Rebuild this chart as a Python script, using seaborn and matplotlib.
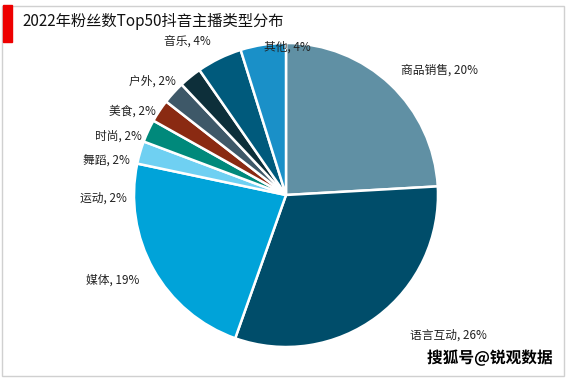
import matplotlib
matplotlib.use("Agg")
import matplotlib.pyplot as plt
import seaborn as sns
from matplotlib.patches import Rectangle
import matplotlib.patheffects as pe

categories = ["商品销售", "语言互动", "媒体", "运动", "舞蹈", "时尚", "美食", "户外", "音乐", "其他"]
values = [20, 26, 19, 2, 2, 2, 2, 2, 4, 4]
colors = ["#6090a4", "#004d6a", "#00a3d9", "#6fd0f2", "#00897b", "#8a2a12",
          "#3e5868", "#0d2f3a", "#005a7c", "#1a90c8"]
title = "2022年粉丝数Top50抖音主播类型分布"

sns.set_theme(style="white")
plt.rcParams['font.family'] = ['Noto Sans CJK SC', 'DejaVu Sans']

W, H = 567, 378
fig = plt.figure(figsize=(W / 100, H / 100), dpi=100)

cx, cy, r = 286, 195, 152
ax = fig.add_axes([(cx - r) / W, (H - cy - r) / H, 2 * r / W, 2 * r / H])
labels = [f"{c}, {v}%" for c, v in zip(categories, values)]
wedges, texts = ax.pie(values, colors=colors, startangle=90, counterclock=False,
                       labels=labels, labeldistance=1.2,
                       wedgeprops=dict(edgecolor="white", linewidth=1.8),
                       textprops=dict(fontsize=8.5, color="#222222"))
ax.set_xlim(-1, 1)
ax.set_ylim(-1, 1)
ax.set_aspect("equal")
ax.axis("off")

label_pos = [(1.01, 0.82), (1.07, -0.92), (-1.14, -0.56), (-1.20, -0.02),
             (-1.18, 0.22), (-1.10, 0.39), (-1.01, 0.55), (-0.88, 0.75),
             (-0.65, 1.01), (0.01, 0.97)]
for t, (x, y) in zip(texts, label_pos):
    t.set_position((x, y))
    t.set_ha("center")
    t.set_va("center")
    t.set_clip_on(False)

# frame
fig.patches.append(Rectangle((2 / W, 2 / H), (W - 5) / W, (H - 8) / H,
                             transform=fig.transFigure, fill=False,
                             edgecolor="#d0d0d0", linewidth=1))
# red bar
fig.patches.append(Rectangle((3 / W, 1 - 42 / H), 9 / W, 37 / H,
                             transform=fig.transFigure, color="#ee0000"))
fig.text(22 / W, 1 - 21 / H, title, fontsize=11, color="#111111",
         ha="left", va="center")
fig.text(553 / W, 1 - 358 / H, "搜狐号@锐观数据", fontsize=11.3, fontweight="bold",
         color="black", ha="right", va="center",
         path_effects=[pe.withStroke(linewidth=2, foreground="white")])

fig.savefig("out.png", dpi=100)
